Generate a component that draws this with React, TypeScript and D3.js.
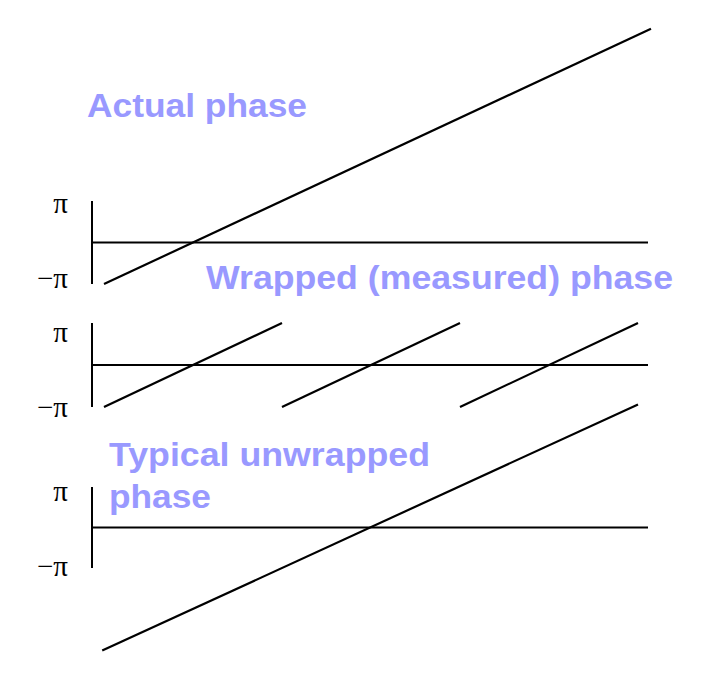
import React from "react";
import * as d3 from "d3";

// Phase values in units of π, frequency in arbitrary units (one wrap per unit)
const actualPhase: [number, number][] = [[0, -1], [3.073, 5.15]];
const wrappedSegments: [number, number][][] = [
  [[0, -1], [1, 1]],
  [[1, -1], [2, 1]],
  [[2, -1], [3, 1]],
];
const unwrappedPhase: [number, number][] = [[-0.01, -3.04], [3, 3.04]];
const tickLabels = ["π", "−π"];
const titles = ["Actual phase", "Wrapped (measured) phase", "Typical unwrapped", "phase"];

const W = 718;
const H = 694;

const x = d3.scaleLinear().domain([0, 3]).range([104, 638]);

const panels = [
  { top: 201, bottom: 284, piBase: 213, negBase: 288 },
  { top: 323, bottom: 407, piBase: 342, negBase: 417 },
  { top: 487, bottom: 568, piBase: 501, negBase: 576 },
];

const axisX = 92;
const lineEnd = 648;

export default function App() {
  const ys = panels.map((p) => d3.scaleLinear().domain([-1, 1]).range([p.bottom, p.top]));
  const line = (y: d3.ScaleLinear<number, number>) =>
    d3.line<[number, number]>().x((d) => x(d[0])).y((d) => y(d[1]));

  const titleStyle = {
    fontFamily: "'Liberation Sans', Arial, Helvetica, sans-serif",
    fontWeight: 700,
    fontSize: 34,
    fill: "#9999ff",
  } as const;
  const tickStyle = {
    fontFamily: "'Liberation Serif', 'Times New Roman', serif",
    fontSize: 29,
    fill: "#000",
  } as const;

  return (
    <svg
      width={W}
      height={H}
      style={{ position: "absolute", left: 0, top: 0, background: "#fff" }}
    >
      {panels.map((p, i) => (
        <g key={i}>
          <line x1={axisX} x2={axisX} y1={p.top} y2={p.bottom} stroke="#000" strokeWidth={2} />
          <line x1={axisX} x2={lineEnd} y1={ys[i](0)} y2={ys[i](0)} stroke="#000" strokeWidth={2} />
          <text x={68} y={p.piBase} textAnchor="end" style={tickStyle}>{tickLabels[0]}</text>
          <text x={68} y={p.negBase} textAnchor="end" style={tickStyle}>{tickLabels[1]}</text>
        </g>
      ))}
      <path d={line(ys[0])(actualPhase) || ""} fill="none" stroke="#000" strokeWidth={2.2} />
      {wrappedSegments.map((s, i) => (
        <path key={i} d={line(ys[1])(s) || ""} fill="none" stroke="#000" strokeWidth={2.2} />
      ))}
      <path d={line(ys[2])(unwrappedPhase) || ""} fill="none" stroke="#000" strokeWidth={2.2} />

      <text x={87} y={117} style={titleStyle} textLength={220} lengthAdjust="spacingAndGlyphs">{titles[0]}</text>
      <text x={206} y={289} style={titleStyle} textLength={467} lengthAdjust="spacingAndGlyphs">{titles[1]}</text>
      <text x={109} y={466} style={titleStyle} textLength={321} lengthAdjust="spacingAndGlyphs">{titles[2]}</text>
      <text x={109} y={508} style={titleStyle} textLength={102} lengthAdjust="spacingAndGlyphs">{titles[3]}</text>
    </svg>
  );
}
